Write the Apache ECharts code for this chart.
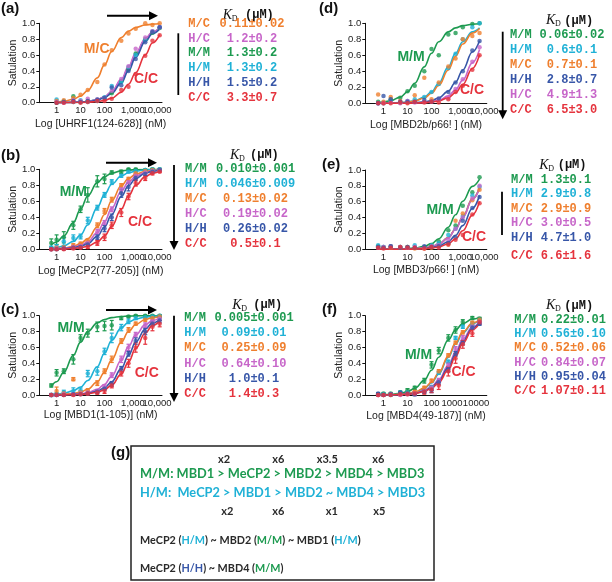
<!DOCTYPE html>
<html><head><meta charset="utf-8">
<script src="https://cdn.jsdelivr.net/npm/echarts@6/dist/echarts.min.js"></script>
<style>html,body{margin:0;padding:0;background:#fff}#c{width:612px;height:582px}</style>
</head><body><div id="c"></div>
<script>
// ---------- DATA ----------
const pairOrder = ['M/M','H/M','M/C','H/C','H/H','C/C'];
// concentrations (nM)
const xA = [1,2,5,10,20,50,100,200,500,1000,2000,5000,10000,20000];
const xL = [0.6,1,2,5,10,20,50,100,200,500,1000,2000,5000,10000,20000];
const xR = [0.6,1,2,5,10,20,50,100,200,500,1000,2000,5000,10000];

// (a) UHRF1(124-628)
const a_fit_MC = [0.009,0.018,0.043,0.083,0.154,0.313,0.476,0.645,0.820,0.901,0.948,0.978,0.989,0.995];
const a_pts_MC = [0.02,0.03,0.06,0.10,0.16,0.26,0.48,0.66,0.78,0.87,0.93,1.00,0.98,1.00];
const a_fit_HC = [0.001,0.002,0.004,0.008,0.016,0.040,0.077,0.143,0.294,0.455,0.625,0.806,0.893,0.943];
const a_pts_HC = [0.01,0.00,0.03,0.02,0.05,0.04,0.06,0.15,0.30,0.46,0.68,0.82,0.90,0.95];
const a_fit_MM = [0.001,0.002,0.004,0.008,0.015,0.037,0.071,0.133,0.278,0.435,0.606,0.794,0.885,0.939];
const a_pts_MM = [0.00,0.01,0.08,0.01,0.02,0.03,0.06,0.12,0.27,0.42,0.62,0.80,0.88,0.94];
const a_fit_HM = [0.001,0.002,0.004,0.008,0.015,0.037,0.071,0.133,0.278,0.435,0.606,0.794,0.885,0.939];
const a_pts_HM = [0.04,0.02,0.01,0.03,0.01,0.02,0.07,0.21,0.26,0.45,0.60,0.79,0.90,0.95];
const a_fit_HH = [0.001,0.001,0.003,0.007,0.013,0.032,0.063,0.118,0.250,0.400,0.571,0.769,0.870,0.930];
const a_pts_HH = [0.00,0.01,0.02,0.01,0.02,0.04,0.06,0.19,0.22,0.40,0.55,0.76,0.89,0.95];
const a_fit_CC = [0.000,0.001,0.002,0.003,0.006,0.015,0.029,0.057,0.132,0.233,0.377,0.602,0.752,0.858];
const a_pts_CC = [0.00,0.00,0.01,0.00,0.01,0.02,0.02,0.05,0.16,0.20,0.36,0.59,0.78,0.85];

// (b) MeCP2(77-205)
const b_fit_MM = [0.057,0.091,0.167,0.333,0.500,0.667,0.833,0.909,0.952,0.980,0.990,0.995,0.998,0.999,1.000];
const b_pts_MM = [0.08,0.12,0.15,0.30,0.50,0.68,0.85,0.88,0.96,0.97,1.00,1.00,0.99,1.00,1.00];
const b_err_MM = [0.05,0.06,0.07,0.05,0.04,0.09,0.07,0.06,0.02,0.02,0.01,0.01,0.01,0.01,0.01];
const b_fit_HM = [0.013,0.021,0.042,0.098,0.179,0.303,0.521,0.685,0.813,0.916,0.956,0.978,0.991,0.995,0.998];
const b_pts_HM = [0.02,0.03,0.10,0.14,0.16,0.36,0.52,0.68,0.84,0.92,0.97,0.98,0.99,1.00,1.00];
const b_err_HM = [0.02,0.03,0.05,0.04,0.03,0.04,0.03,0.03,0.03,0.02,0.01,0.01,0.01,0.01,0.01];
const b_fit_MC = [0.005,0.008,0.015,0.037,0.071,0.133,0.278,0.435,0.606,0.794,0.885,0.939,0.975,0.987,0.994];
const b_pts_MC = [0.00,0.02,0.02,0.05,0.07,0.10,0.30,0.48,0.62,0.80,0.88,0.95,0.98,0.99,0.99];
const b_err_MC = [0.01,0.02,0.02,0.02,0.02,0.03,0.03,0.03,0.03,0.02,0.02,0.01,0.01,0.01,0.01];
const b_fit_HC = [0.003,0.005,0.010,0.026,0.050,0.095,0.208,0.345,0.513,0.725,0.840,0.913,0.963,0.981,0.991];
const b_pts_HC = [0.00,0.01,0.01,0.03,0.04,0.08,0.22,0.33,0.50,0.74,0.84,0.92,0.96,0.98,0.99];
const b_err_HC = [0.01,0.01,0.01,0.02,0.02,0.02,0.03,0.03,0.03,0.03,0.02,0.02,0.01,0.01,0.01];
const b_fit_HH = [0.002,0.004,0.008,0.019,0.037,0.071,0.161,0.278,0.435,0.658,0.794,0.885,0.951,0.975,0.987];
const b_pts_HH = [0.00,0.00,0.01,0.02,0.03,0.06,0.15,0.26,0.40,0.70,0.78,0.89,0.94,0.97,0.99];
const b_err_HH = [0.01,0.01,0.01,0.01,0.02,0.02,0.03,0.04,0.04,0.05,0.05,0.03,0.02,0.01,0.01];
const b_fit_CC = [0.001,0.002,0.004,0.010,0.020,0.038,0.091,0.167,0.286,0.500,0.667,0.800,0.909,0.952,0.976];
const b_pts_CC = [0.00,0.00,0.00,0.01,0.02,0.03,0.08,0.15,0.30,0.46,0.66,0.83,0.89,0.95,0.97];
const b_err_CC = [0.01,0.01,0.01,0.01,0.01,0.02,0.03,0.04,0.04,0.05,0.04,0.04,0.03,0.02,0.01];

// (c) MBD1(1-105)
const c_fit_MM = [0.107,0.167,0.286,0.500,0.667,0.800,0.909,0.952,0.976,0.990,0.995,0.998,0.999,1.000,1.000];
const c_pts_MM = [0.12,0.28,0.30,0.45,0.72,0.78,0.86,0.87,0.88,0.97,0.99,1.00,1.00,1.00,1.00];
const c_err_MM = [0.02,0.04,0.03,0.06,0.04,0.05,0.06,0.06,0.06,0.02,0.01,0.01,0.01,0.01,0.01];
const c_fit_HM = [0.007,0.011,0.022,0.053,0.100,0.182,0.357,0.526,0.690,0.847,0.917,0.957,0.982,0.991,0.996];
const c_pts_HM = [0.00,0.01,0.03,0.05,0.06,0.27,0.30,0.55,0.72,0.85,0.93,0.97,0.98,0.99,1.00];
const c_err_HM = [0.02,0.02,0.03,0.04,0.03,0.04,0.05,0.04,0.06,0.04,0.03,0.02,0.01,0.01,0.01];
const c_fit_MC = [0.002,0.004,0.008,0.020,0.038,0.074,0.167,0.286,0.444,0.667,0.800,0.889,0.952,0.976,0.988];
const c_pts_MC = [0.00,0.05,0.02,0.20,0.03,0.06,0.15,0.30,0.45,0.68,0.82,0.90,0.95,0.97,0.99];
const c_err_MC = [0.01,0.05,0.02,0.02,0.02,0.02,0.03,0.03,0.04,0.03,0.03,0.02,0.02,0.01,0.01];
const c_fit_HC = [0.001,0.002,0.003,0.008,0.015,0.030,0.072,0.135,0.238,0.439,0.610,0.758,0.887,0.940,0.969];
const c_pts_HC = [0.00,0.00,0.01,0.01,0.02,0.03,0.05,0.10,0.25,0.45,0.60,0.76,0.88,0.93,0.96];
const c_err_HC = [0.01,0.01,0.01,0.01,0.01,0.02,0.02,0.03,0.03,0.04,0.04,0.03,0.03,0.02,0.02];
const c_fit_HH = [0.001,0.001,0.002,0.005,0.010,0.020,0.048,0.091,0.167,0.333,0.500,0.667,0.833,0.909,0.952];
const c_pts_HH = [0.00,0.00,0.00,0.01,0.01,0.02,0.04,0.08,0.14,0.33,0.52,0.68,0.80,0.90,0.94];
const c_err_HH = [0.01,0.01,0.01,0.01,0.01,0.01,0.02,0.02,0.03,0.03,0.03,0.04,0.04,0.03,0.03];
const c_fit_CC = [0.000,0.001,0.001,0.004,0.007,0.014,0.034,0.067,0.125,0.263,0.417,0.588,0.781,0.877,0.935];
const c_pts_CC = [0.00,0.00,0.00,0.00,0.01,0.02,0.03,0.05,0.12,0.28,0.40,0.60,0.72,0.86,0.90];
const c_err_CC = [0.01,0.01,0.01,0.01,0.01,0.02,0.02,0.03,0.03,0.04,0.05,0.06,0.08,0.05,0.04];

// (d) MBD2b/p66
const d_fit_MM = [0.010,0.016,0.032,0.077,0.143,0.250,0.455,0.625,0.769,0.893,0.943,0.971,0.988,0.994];
const d_pts_MM = [0.02,0.00,0.05,0.07,0.15,0.22,0.40,0.68,0.60,0.86,0.88,0.95,0.99,1.00];
const d_fit_HM = [0.001,0.002,0.003,0.008,0.016,0.032,0.077,0.143,0.250,0.455,0.625,0.769,0.893,0.943];
const d_pts_HM = [0.00,0.01,0.02,0.01,0.03,0.05,0.08,0.14,0.24,0.44,0.62,0.80,0.95,1.00];
const d_fit_MC = [0.001,0.001,0.003,0.007,0.014,0.028,0.067,0.125,0.222,0.417,0.588,0.741,0.877,0.935];
const d_pts_MC = [0.11,0.02,0.08,0.03,0.01,0.10,0.32,0.05,0.26,0.46,0.56,0.80,0.84,0.88];
const d_fit_HH = [0.000,0.000,0.001,0.002,0.004,0.007,0.018,0.034,0.067,0.152,0.263,0.417,0.641,0.781];
const d_pts_HH = [0.00,0.09,0.05,0.02,0.02,0.02,0.04,0.02,0.06,0.14,0.26,0.40,0.66,0.78];
const d_fit_HC = [0.000,0.000,0.000,0.001,0.002,0.004,0.010,0.020,0.039,0.093,0.169,0.290,0.505,0.671];
const d_pts_HC = [0.00,0.00,0.01,0.00,0.03,0.01,0.02,0.02,0.05,0.07,0.18,0.30,0.52,0.70];
const d_fit_CC = [0.000,0.000,0.000,0.001,0.002,0.003,0.008,0.015,0.030,0.071,0.133,0.235,0.435,0.606];
const d_pts_CC = [0.00,0.00,0.00,0.01,0.00,0.02,0.01,0.02,0.01,0.05,0.14,0.22,0.42,0.60];

// (e) MBD3/p66
const e_fit_MM = [0.000,0.001,0.002,0.004,0.008,0.015,0.037,0.071,0.133,0.278,0.435,0.606,0.794,0.885];
const e_pts_MM = [0.04,0.03,0.04,0.03,0.03,0.02,0.03,0.05,0.10,0.24,0.30,0.55,0.72,0.91];
const e_fit_HM = [0.000,0.000,0.001,0.002,0.003,0.007,0.017,0.033,0.065,0.147,0.256,0.408,0.633,0.775];
const e_pts_HM = [0.05,0.03,0.02,0.03,0.02,0.05,0.02,0.05,0.08,0.18,0.26,0.42,0.68,0.79];
const e_fit_MC = [0.000,0.000,0.001,0.002,0.003,0.007,0.017,0.033,0.065,0.147,0.256,0.408,0.633,0.775];
const e_pts_MC = [0.02,0.02,0.02,0.02,0.03,0.01,0.01,0.02,0.04,0.06,0.36,0.45,0.62,0.75];
const e_fit_HC = [0.000,0.000,0.001,0.002,0.003,0.007,0.016,0.032,0.065,0.143,0.250,0.400,0.625,0.769];
const e_pts_HC = [0.02,0.03,0.04,0.03,0.02,0.03,0.02,0.04,0.05,0.12,0.26,0.40,0.64,0.80];
const e_fit_HH = [0.000,0.000,0.000,0.001,0.002,0.004,0.011,0.021,0.041,0.096,0.175,0.299,0.515,0.680];
const e_pts_HH = [0.03,0.02,0.04,0.02,0.03,0.02,0.04,0.03,0.04,0.08,0.15,0.36,0.52,0.66];
const e_fit_CC = [0.000,0.000,0.000,0.001,0.002,0.003,0.008,0.015,0.029,0.070,0.132,0.233,0.431,0.602];
const e_pts_CC = [0.02,0.01,0.02,0.03,0.02,0.02,0.01,0.03,0.02,0.06,0.12,0.18,0.44,0.58];

// (f) MBD4(49-187)
const f_fit_MM = [0.003,0.005,0.009,0.022,0.043,0.083,0.185,0.313,0.476,0.694,0.820,0.901,0.958,0.978];
const f_pts_MM = [0.01,0.02,0.02,0.03,0.06,0.09,0.18,0.38,0.56,0.72,0.82,0.92,0.97,0.96];
const f_err_MM = [0.01,0.01,0.01,0.02,0.02,0.02,0.03,0.04,0.04,0.04,0.04,0.03,0.02,0.02];
const f_fit_HM = [0.001,0.002,0.004,0.009,0.018,0.034,0.082,0.152,0.263,0.472,0.641,0.781,0.899,0.947];
const f_pts_HM = [0.00,0.01,0.00,0.03,0.03,0.02,0.05,0.10,0.28,0.42,0.72,0.86,0.90,0.95];
const f_err_HM = [0.01,0.01,0.01,0.01,0.01,0.02,0.02,0.02,0.02,0.02,0.02,0.02,0.02,0.02];
const f_fit_MC = [0.001,0.002,0.004,0.010,0.019,0.037,0.088,0.161,0.278,0.490,0.658,0.794,0.906,0.951];
const f_pts_MC = [0.00,0.00,0.01,0.01,0.02,0.04,0.09,0.18,0.30,0.50,0.66,0.79,0.91,0.95];
const f_err_MC = [0.01,0.01,0.01,0.01,0.01,0.02,0.02,0.02,0.02,0.02,0.02,0.02,0.02,0.02];
const f_fit_HC = [0.001,0.001,0.002,0.006,0.012,0.023,0.056,0.106,0.192,0.373,0.543,0.704,0.856,0.923];
const f_pts_HC = [0.00,0.00,0.01,0.00,0.01,0.02,0.05,0.09,0.18,0.38,0.58,0.72,0.86,0.92];
const f_err_HC = [0.01,0.01,0.01,0.01,0.01,0.02,0.02,0.03,0.03,0.03,0.03,0.03,0.02,0.02];
const f_fit_HH = [0.001,0.001,0.002,0.005,0.010,0.021,0.050,0.095,0.174,0.345,0.513,0.678,0.840,0.913];
const f_pts_HH = [0.02,0.00,0.01,0.03,0.02,0.01,0.04,0.06,0.16,0.32,0.52,0.66,0.85,0.90];
const f_err_HH = [0.01,0.01,0.01,0.01,0.01,0.02,0.02,0.03,0.03,0.03,0.03,0.03,0.02,0.02];
const f_fit_CC = [0.001,0.001,0.002,0.005,0.009,0.018,0.045,0.085,0.157,0.318,0.483,0.651,0.824,0.903];
const f_pts_CC = [0.00,0.00,0.00,0.01,0.01,0.02,0.04,0.07,0.12,0.30,0.46,0.64,0.78,0.92];
const f_err_CC = [0.01,0.01,0.01,0.01,0.01,0.02,0.03,0.04,0.05,0.06,0.06,0.05,0.04,0.03];

// KD tables (μM)
const kd_a_pairs = ['M/C','H/C','M/M','H/M','H/H','C/C'];
const kd_a_vals  = ['0.11±0.02','1.2±0.2','1.3±0.2','1.3±0.2','1.5±0.2','3.3±0.7'];
const kd_b_pairs = ['M/M','H/M','M/C','H/C','H/H','C/C'];
const kd_b_vals  = ['0.010±0.001','0.046±0.009','0.13±0.02','0.19±0.02','0.26±0.02','0.5±0.1'];
const kd_c_pairs = ['M/M','H/M','M/C','H/C','H/H','C/C'];
const kd_c_vals  = ['0.005±0.001','0.09±0.01','0.25±0.09','0.64±0.10','1.0±0.1','1.4±0.3'];
const kd_d_pairs = ['M/M','H/M','M/C','H/H','H/C','C/C'];
const kd_d_vals  = ['0.06±0.02','0.6±0.1','0.7±0.1','2.8±0.7','4.9±1.3','6.5±3.0'];
const kd_e_pairs = ['M/M','H/M','M/C','H/C','H/H','C/C'];
const kd_e_vals  = ['1.3±0.1','2.9±0.8','2.9±0.9','3.0±0.5','4.7±1.0','6.6±1.6'];
const kd_f_pairs = ['M/M','H/M','M/C','H/C','H/H','C/C'];
const kd_f_vals  = ['0.22±0.01','0.56±0.10','0.52±0.06','0.84±0.07','0.95±0.04','1.07±0.11'];

const axisNames = ['Log [UHRF1(124-628)] (nM)','Log [MeCP2(77-205)] (nM)','Log [MBD1(1-105)] (nM)',
                   'Log [MBD2b/p66! ] (nM)','Log [MBD3/p66! ] (nM)','Log [MBD4(49-187)] (nM)'];

// ---------- STYLE / LAYOUT ----------
const COL = {'M/M':'#1d9a50','H/M':'#1fb1d6','M/C':'#ef7f2e','H/C':'#c766c9','H/H':'#3756a8','C/C':'#e5333d'};
const SANS = '"Liberation Sans", Arial, sans-serif';
const MONO = '"Liberation Mono", "Courier New", monospace';

function pack(fits, pts, errs) {
  const o = {};
  pairOrder.forEach(k => { o[k] = {fit: fits[k], pts: pts[k], err: errs ? errs[k] : null}; });
  return o;
}
const panels = [
  {grid:{left:39.3, top:23.3, width:122.7, height:79.4}, side:'L', xs:xA, nameGap:16, comma:true,
   s:pack({'M/M':a_fit_MM,'H/M':a_fit_HM,'M/C':a_fit_MC,'H/C':a_fit_HC,'H/H':a_fit_HH,'C/C':a_fit_CC},
          {'M/M':a_pts_MM,'H/M':a_pts_HM,'M/C':a_pts_MC,'H/C':a_pts_HC,'H/H':a_pts_HH,'C/C':a_pts_CC})},
  {grid:{left:39.3, top:169.3, width:122.7, height:80}, side:'L', xs:xL, nameGap:16, comma:true,
   s:pack({'M/M':b_fit_MM,'H/M':b_fit_HM,'M/C':b_fit_MC,'H/C':b_fit_HC,'H/H':b_fit_HH,'C/C':b_fit_CC},
          {'M/M':b_pts_MM,'H/M':b_pts_HM,'M/C':b_pts_MC,'H/C':b_pts_HC,'H/H':b_pts_HH,'C/C':b_pts_CC},
          {'M/M':b_err_MM,'H/M':b_err_HM,'M/C':b_err_MC,'H/C':b_err_HC,'H/H':b_err_HH,'C/C':b_err_CC})},
  {grid:{left:39.3, top:315.7, width:122.7, height:79.3}, side:'L', xs:xL, nameGap:15, comma:true,
   s:pack({'M/M':c_fit_MM,'H/M':c_fit_HM,'M/C':c_fit_MC,'H/C':c_fit_HC,'H/H':c_fit_HH,'C/C':c_fit_CC},
          {'M/M':c_pts_MM,'H/M':c_pts_HM,'M/C':c_pts_MC,'H/C':c_pts_HC,'H/H':c_pts_HH,'C/C':c_pts_CC},
          {'M/M':c_err_MM,'H/M':c_err_HM,'M/C':c_err_MC,'H/C':c_err_HC,'H/H':c_err_HH,'C/C':c_err_CC})},
  {grid:{left:365.3, top:23.3, width:121.5, height:80}, side:'R', xs:xR, nameGap:16, comma:true,
   s:pack({'M/M':d_fit_MM,'H/M':d_fit_HM,'M/C':d_fit_MC,'H/C':d_fit_HC,'H/H':d_fit_HH,'C/C':d_fit_CC},
          {'M/M':d_pts_MM,'H/M':d_pts_HM,'M/C':d_pts_MC,'H/C':d_pts_HC,'H/H':d_pts_HH,'C/C':d_pts_CC})},
  {grid:{left:365.3, top:170, width:121.5, height:79.3}, side:'R', xs:xR, nameGap:15, comma:true,
   s:pack({'M/M':e_fit_MM,'H/M':e_fit_HM,'M/C':e_fit_MC,'H/C':e_fit_HC,'H/H':e_fit_HH,'C/C':e_fit_CC},
          {'M/M':e_pts_MM,'H/M':e_pts_HM,'M/C':e_pts_MC,'H/C':e_pts_HC,'H/H':e_pts_HH,'C/C':e_pts_CC})},
  {grid:{left:365.3, top:315.7, width:121.5, height:79.3}, side:'R', xs:xR, nameGap:16, comma:false,
   s:pack({'M/M':f_fit_MM,'H/M':f_fit_HM,'M/C':f_fit_MC,'H/C':f_fit_HC,'H/H':f_fit_HH,'C/C':f_fit_CC},
          {'M/M':f_pts_MM,'H/M':f_pts_HM,'M/C':f_pts_MC,'H/C':f_pts_HC,'H/H':f_pts_HH,'C/C':f_pts_CC},
          {'M/M':f_err_MM,'H/M':f_err_HM,'M/C':f_err_MC,'H/C':f_err_HC,'H/H':f_err_HH,'C/C':f_err_CC})}
];

const LBL = {fontSize:9.5, color:'#222', fontFamily:SANS};
const grids = [], xAxes = [], yAxes = [], series = [];
panels.forEach((p, i) => {
  grids.push(Object.assign({containLabel:false, outerBoundsMode:'none'}, p.grid));
  xAxes.push({
    type:'log', logBase:10, gridIndex:i,
    min: p.side === 'L' ? 0.19 : 0.175, max: p.side === 'L' ? 25000 : 20000,
    axisLine:{show:true, onZero:false, lineStyle:{color:'#111', width:1}},
    axisTick:{show:false}, splitLine:{show:false}, minorTick:{show:false},
    axisLabel:Object.assign({margin:3, hideOverlap:false,
      rich:{ r:Object.assign({padding:[0,0,0,9]}, LBL), l:Object.assign({padding:[0,7,0,0]}, LBL) },
      formatter: v => {
        const l = Math.log10(v);
        if (Math.abs(l - Math.round(l)) > 1e-6 || v < 0.99) return '';
        const n = Math.round(v);
        if (!p.comma) return n >= 1000 ? '{l|' + n + '}' : String(n);
        const s = n.toLocaleString('en-US');
        return n >= 1000 ? '{r|' + s + '}' : s;
      }}, LBL),
    name: axisNames[i], nameLocation:'middle', nameGap:p.nameGap,
    nameTextStyle:{fontSize:10.5, color:'#222', fontFamily:SANS}
  });
  yAxes.push({
    type:'value', gridIndex:i, min:0, max:1, interval:0.2,
    axisLine:{show:true, lineStyle:{color:'#111', width:1}},
    axisTick:{show:true, length:3, lineStyle:{color:'#111'}},
    splitLine:{show:false},
    axisLabel:Object.assign({margin:4, formatter: v => v.toFixed(1)}, LBL),
    name:'Satulation', nameLocation:'middle', nameGap:17, nameRotate:90,
    nameTextStyle:{fontSize:10.5, color:'#222', fontFamily:SANS}
  });
  pairOrder.forEach(k => {
    const d = p.s[k], c = COL[k];
    if (d.err) {
      series.push({
        type:'custom', xAxisIndex:i, yAxisIndex:i, silent:true, z:3,
        data: p.xs.map((x, j) => [x, d.pts[j] - d.err[j], d.pts[j] + d.err[j]]),
        encode:{x:0, y:[1,2]},
        renderItem: (params, api) => {
          const a = api.coord([api.value(0), api.value(1)]);
          const b = api.coord([api.value(0), api.value(2)]);
          const w = 2;
          const st = {stroke:c, lineWidth:1.2};
          return {type:'group', children:[
            {type:'line', shape:{x1:a[0], y1:a[1], x2:b[0], y2:b[1]}, style:st},
            {type:'line', shape:{x1:a[0]-w, y1:a[1], x2:a[0]+w, y2:a[1]}, style:st},
            {type:'line', shape:{x1:b[0]-w, y1:b[1], x2:b[0]+w, y2:b[1]}, style:st}
          ]};
        }
      });
    }
    series.push({
      type:'line', xAxisIndex:i, yAxisIndex:i, silent:true, z:2,
      data: p.xs.map((x, j) => [x, d.fit[j]]),
      smooth:0.4, smoothMonotone:'x', showSymbol:false,
      lineStyle:{color:c, width:1.6}
    });
    series.push({
      type:'scatter', xAxisIndex:i, yAxisIndex:i, silent:true, z:4,
      data: p.xs.map((x, j) => [x, d.pts[j]]),
      symbol:'circle', symbolSize:4.5, itemStyle:{color:c}
    });
  });
});

// ---------- GRAPHIC (tables, arrows, labels, box) ----------
const graphic = [];
function txt(x, y, text, font, fill, align) {
  graphic.push({type:'text', x:x, y:y, silent:true,
    style:{text:text, font:font, fill:fill, align:align || 'left', verticalAlign:'middle'}});
}
const tables = [
  {pairs:kd_a_pairs, vals:kd_a_vals, lx:188.3, cx:252,   rows:[24,39.3,53.3,68,82.7,97.7],        kx:222.7, ux:245,   hy:15},
  {pairs:kd_b_pairs, vals:kd_b_vals, lx:185,   cx:255.5, rows:[169.3,184.3,199.3,214,229,244],    kx:230,   ux:250,   hy:155},
  {pairs:kd_c_pairs, vals:kd_c_vals, lx:184.3, cx:254,   rows:[318.3,333.3,348.3,363.7,379,393.7],kx:232.3, ux:253.3, hy:305},
  {pairs:kd_d_pairs, vals:kd_d_vals, lx:510,   cx:572,   rows:[35,50,65,80,95,110],               kx:546,   ux:564.3, hy:20.7},
  {pairs:kd_e_pairs, vals:kd_e_vals, lx:511,   cx:566,   rows:[180,194.3,209,223.3,237.7,255.7],  kx:539.3, ux:557.7, hy:165},
  {pairs:kd_f_pairs, vals:kd_f_vals, lx:514.3, cx:573.5, rows:[320,334.3,348.3,362.7,376.7,391],  kx:546,   ux:564.3, hy:305.7}
];
const MONOF = 'bold 12px ' + MONO;
tables.forEach(t => {
  txt(t.kx, t.hy, 'K', 'italic 14px "Liberation Serif", serif', '#111');
  txt(t.kx + 9, t.hy + 3.5, 'D', '8px "Liberation Serif", serif', '#111');
  txt(t.ux, t.hy, '(μM)', 'bold 12px ' + MONO, '#111');
  t.pairs.forEach((k, j) => {
    txt(t.lx, t.rows[j], k, MONOF, COL[k]);
    txt(t.cx, t.rows[j], t.vals[j], MONOF, COL[k], 'center');
  });
});
// panel letters
const PL = 'bold 15px ' + SANS;
txt(1, 8.5, '(a)', PL, '#111'); txt(1, 155.5, '(b)', PL, '#111'); txt(1, 310, '(c)', PL, '#111');
txt(319, 8.5, '(d)', PL, '#111'); txt(322, 165, '(e)', PL, '#111'); txt(322, 310, '(f)', PL, '#111');
txt(111, 453, '(g)', PL, '#111');
// curve labels
const CL = 'bold 14px ' + SANS;
[[96.7,49,'M/C'],[146,79,'C/C'],[73.3,192.5,'M/M'],[140,221.7,'C/C'],[71,328.3,'M/M'],[146.7,373.3,'C/C'],
 [411,57.5,'M/M'],[472,90,'C/C'],[440,210,'M/M'],[474,236.7,'C/C'],[418.5,355,'M/M'],[463.5,371.7,'C/C']]
  .forEach(l => txt(l[0], l[1], l[2], CL, COL[l[2]], 'center'));
// arrows
function hArrow(x1, x2, y) {
  graphic.push({type:'line', silent:true, shape:{x1:x1, y1:y, x2:x2 - 7, y2:y}, style:{stroke:'#000', lineWidth:2}});
  graphic.push({type:'polygon', silent:true, shape:{points:[[x2 - 9, y - 4.5],[x2, y],[x2 - 9, y + 4.5]]}, style:{fill:'#000'}});
}
function vArrow(x, y1, y2) {
  graphic.push({type:'line', silent:true, shape:{x1:x, y1:y1, x2:x, y2:y2 - 7}, style:{stroke:'#000', lineWidth:1.8}});
  graphic.push({type:'polygon', silent:true, shape:{points:[[x - 4.5, y2 - 9],[x, y2],[x + 4.5, y2 - 9]]}, style:{fill:'#000'}});
}
function vLine(x, y1, y2) {
  graphic.push({type:'line', silent:true, shape:{x1:x, y1:y1, x2:x, y2:y2}, style:{stroke:'#000', lineWidth:1.8}});
}
hArrow(107, 158, 15.7); hArrow(106, 157, 162.7); hArrow(106, 157, 310);
vArrow(174, 165, 250); vArrow(174, 315.7, 402); vArrow(502.7, 31.7, 119.3);
vLine(178.3, 33.3, 95); vLine(502, 191.7, 235);
// box (g)
graphic.push({type:'rect', silent:true, shape:{x:131, y:446, width:303, height:134},
  style:{fill:'none', stroke:'#222', lineWidth:1.5}});
const BOXF = '"Lato", "Open Sans", sans-serif';
const NF = 'bold 11px ' + BOXF;
[[224,'x2'],[278.3,'x6'],[327.3,'x3.5'],[378.3,'x6']].forEach(n => txt(n[0], 459.3, n[1], NF, '#2a2a2a', 'center'));
[[227.3,'x2'],[278.3,'x6'],[331.7,'x1'],[379.3,'x5']].forEach(n => txt(n[0], 511.7, n[1], NF, '#2a2a2a', 'center'));
txt(140, 474.3, 'M/M: MBD1 > MeCP2 > MBD2 > MBD4 > MBD3', 'bold 12.8px ' + BOXF, COL['M/M']);
txt(140, 492.7, 'H/M:  MeCP2 > MBD1 > MBD2 ~ MBD4 > MBD3', 'bold 12.8px ' + BOXF, COL['H/M']);
function richLine(y, parts) {
  graphic.push({type:'text', x:140, y:y, silent:true, style:{
    text: parts.map(p => '{' + p[1] + '|' + p[0] + '}').join(''),
    verticalAlign:'middle', align:'left',
    rich:{
      k:{font:'bold 10.8px ' + BOXF, fill:'#2a2a2a'},
      c:{font:'bold 10.8px ' + BOXF, fill:COL['H/M']},
      g:{font:'bold 10.8px ' + BOXF, fill:COL['M/M']},
      b:{font:'bold 10.8px ' + BOXF, fill:COL['H/H']}
    }}});
}
richLine(541, [['MeCP2 (','k'],['H/M','c'],[') ~ MBD2 (','k'],['M/M','g'],[') ~ MBD1 (','k'],['H/M','c'],[')','k']]);
richLine(568.5, [['MeCP2 (','k'],['H/H','b'],[') ~ MBD4 (','k'],['M/M','g'],[')','k']]);

const chart = echarts.init(document.getElementById('c'), null, {renderer:'canvas'});
chart.setOption({
  animation:false, backgroundColor:'#fff',
  grid:grids, xAxis:xAxes, yAxis:yAxes, series:series, graphic:graphic
});
</script></body></html>
